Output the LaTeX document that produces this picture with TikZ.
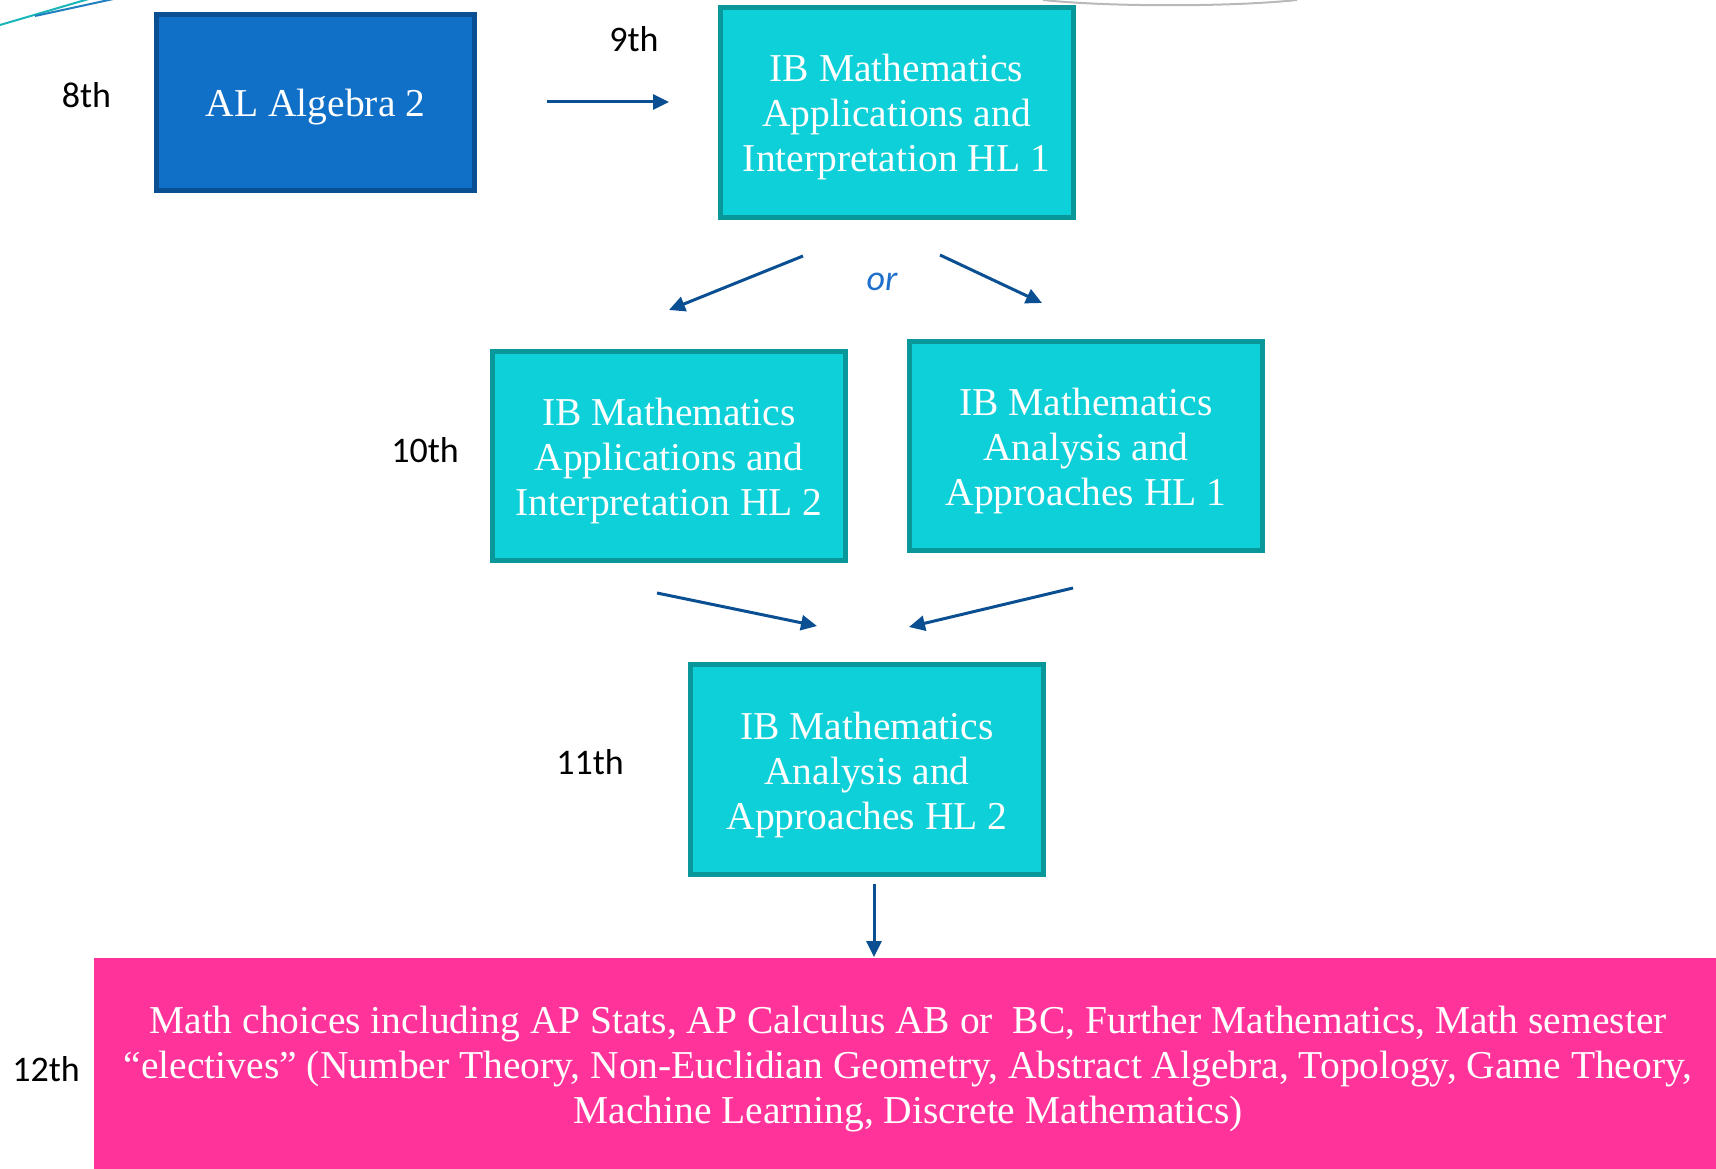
\documentclass[tikz,border=0pt]{standalone}
\usepackage{fontspec}
\setmainfont{Liberation Serif}
\newfontfamily\labfont{Carlito}
\usetikzlibrary{arrows.meta}
\definecolor{algfill}{HTML}{1070C8}
\definecolor{algedge}{HTML}{0A4F91}
\definecolor{ibfill}{HTML}{0ED0D8}
\definecolor{ibedge}{HTML}{0A979A}
\definecolor{pinkfill}{HTML}{FF3399}
\definecolor{arrowblue}{HTML}{0A4F91}
\definecolor{orblue}{HTML}{1F6FCC}
\definecolor{decoteal}{HTML}{19B5B8}
\definecolor{decoblue}{HTML}{1F7FBF}
\tikzset{
  boxtext/.style={text=white, font=\fontsize{39.5pt}{45pt}\selectfont, align=center, inner sep=0pt},
  algbox/.style={draw=algedge, fill=algfill, line width=5pt, minimum width=318pt, minimum height=176pt, inner sep=0pt},
  ibbox/.style={draw=ibedge, fill=ibfill, line width=5pt, minimum width=353pt, minimum height=209pt, inner sep=0pt},
  pinkbox/.style={fill=pinkfill, minimum width=1622pt, minimum height=211pt, inner sep=0pt},
  gradelab/.style={font=\labfont\fontsize{36pt}{40pt}\selectfont, text=black, inner sep=0pt},
  flow/.style={draw=arrowblue, line width=3pt, -{Triangle[length=16pt,width=15pt]}},
}
\begin{document}
\begin{tikzpicture}[x=1pt,y=-1pt]
\useasboundingbox (0,0) rectangle (1716,1169);
\begin{scope}
\clip (0,0) rectangle (1716,1169);
\draw[decoteal, line width=2pt] (0,25) -- (92,-2);
\draw[decoblue, line width=2pt] (35,16) -- (118,-2);
\draw[gray!55, line width=2pt] (1043,0) .. controls (1110,7) and (1230,7) .. (1297,0);
\end{scope}

\node[algbox] (alg) at (315.5,102.5) {};
\node[ibbox, minimum height=210pt] (ai1) at (896.5,112.5) {};
\node[ibbox] (ai2) at (669,456) {};
\node[ibbox] (aa1) at (1086,446) {};
\node[ibbox, minimum height=210pt] (aa2) at (867,769.5) {};
\node[pinkbox] (elec) at (905,1063.5) {};

\node[boxtext] (algt) at ([yshift=-5pt]alg.center) {AL Algebra 2};
\node[boxtext] (ai1t) at ([yshift=-5pt]ai1.center) {IB Mathematics\\Applications and\\Interpretation HL 1};
\node[boxtext] (ai2t) at ([yshift=-5pt]ai2.center) {IB Mathematics\\Applications and\\Interpretation HL 2};
\node[boxtext] (aa1t) at ([yshift=-5pt]aa1.center) {IB Mathematics\\Analysis and\\Approaches HL 1};
\node[boxtext] (aa2t) at ([yshift=-5pt]aa2.center) {IB Mathematics\\Analysis and\\Approaches HL 2};
\node[boxtext] (elect) at ([xshift=3pt,yshift=-6pt]elec.center) {Math choices including AP Stats, AP Calculus AB or\ \ BC, Further Mathematics, Math semester\\``electives'' (Number Theory, Non-Euclidian Geometry, Abstract Algebra, Topology, Game Theory,\\Machine Learning, Discrete Mathematics)};

\node[gradelab] (g8) at (86.5,95) {8th};
\node[gradelab] (g9) at (634,39) {9th};
\node[gradelab] (g10) at (425,450) {10th};
\node[gradelab] (g11) at (590,762) {11th};
\node[gradelab] (g12) at (46,1069) {12th};
\node[font=\labfont\itshape\fontsize{36pt}{40pt}\selectfont, text=orblue, inner sep=0pt] (or) at (882,282) {or};

\coordinate (a1s) at (547,102);   \coordinate (a1e) at (669,102);
\coordinate (a2s) at (803,256);   \coordinate (a2e) at (669,310);
\coordinate (a3s) at (940,255);   \coordinate (a3e) at (1042,303);
\coordinate (a4s) at (657,593);   \coordinate (a4e) at (817,626);
\coordinate (a5s) at (1073,588);  \coordinate (a5e) at (909,627);
\coordinate (a6s) at (874,884);   \coordinate (a6e) at (874,957);

\draw[flow] (a1s) -- (a1e);
\draw[flow] (a2s) -- (a2e);
\draw[flow] (a3s) -- (a3e);
\draw[flow] (a4s) -- (a4e);
\draw[flow] (a5s) -- (a5e);
\draw[flow] (a6s) -- (a6e);
\end{tikzpicture}
\end{document}
